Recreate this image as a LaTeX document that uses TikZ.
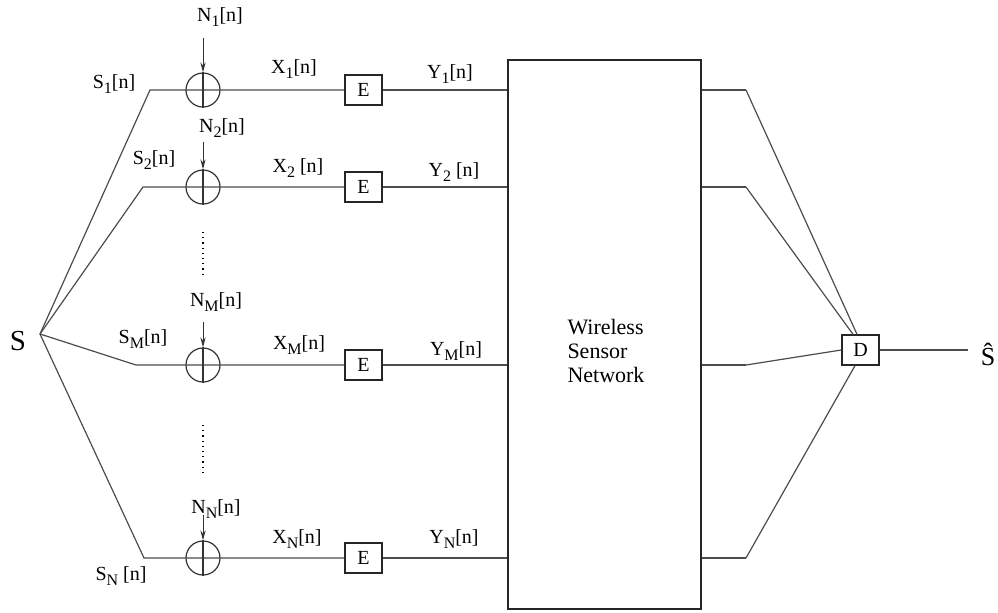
\documentclass[tikz,border=0pt]{standalone}
\usepackage{fontspec}
\setmainfont{Liberation Serif}
\usetikzlibrary{arrows.meta,positioning,calc}
\newcommand{\idx}[1]{\raisebox{-0.5ex}{\footnotesize #1}}

\tikzset{
  wire/.style={black!70,line width=0.6pt},
  adder/.style={circle,draw=black!80,line width=0.6pt,minimum size=17pt,inner sep=0pt},
  codebox/.style={draw=black!85,line width=0.7pt,minimum width=18.5pt,minimum height=15pt,inner sep=0pt,font=\fontsize{10}{12}\selectfont},
  sig/.style={font=\fontsize{10}{12}\selectfont,inner sep=0pt},
  noise/.style={-{Stealth[length=5pt,width=2.6pt]},black!80,line width=0.5pt},
}

\begin{document}
\begin{tikzpicture}[x=0.5pt,y=-0.5pt]
  \useasboundingbox (0,0) rectangle (998,612);
  % source, adders and encoders
  \node[font=\fontsize{14.5}{17}\selectfont,inner sep=0pt] (src) at (18,341) {S};
  \coordinate (fork) at (40,334);
  \node[draw=black!85,line width=0.8pt,minimum width=96.5pt,minimum height=274.5pt,inner sep=0pt] (wsn) at (604.5,334.5) {};
  \node[align=left,font=\fontsize{11}{12}\selectfont] (wsnlabel) at (606,351) {Wireless\\Sensor\\Network};
  \foreach \r/\y/\bx/\ny in {1/90/150/38, 2/187/143/142, M/365/136/322, N/558/144/515}{
    \coordinate (bend\r) at (\bx,\y);
    \node[adder] (add\r) at (203,\y) {};
    \node[codebox] (enc\r) at (363.5,\y) {E};
    \coordinate (tap\r) at (203,\ny);
    \coordinate (out\r) at (746,\y);
    \draw[wire] (fork) -- (bend\r) -- (enc\r.west);
    \draw[black!80,line width=0.6pt] (add\r.north) -- (add\r.south);
    \draw[noise] (tap\r) -- (add\r.north);
    \draw[wire] (enc\r.east) -- (enc\r.east -| wsn.west);
    \draw[wire] (out\r -| wsn.east) -- (out\r);
  }
  \draw[dotted,line width=0.6pt] (203,232) -- (203,276);
  \draw[dotted,line width=0.6pt] (203,425) -- (203,472);
  % decoder
  \node[codebox] (dec) at (860.5,350) {D};
  \draw[wire] (out1) -- ($(dec.north)+(-3.5,0)$);
  \draw[wire] (out2) -- ($(dec.north)+(-7.5,0)$);
  \draw[wire] (outM) -- (dec.west);
  \draw[wire] (outN) -- ($(dec.south)+(-5.5,0)$);
  \coordinate (est) at (968,350);
  \draw[wire] (dec.east) -- (est);
  \node[font=\fontsize{13}{15}\selectfont,inner sep=0pt,anchor=base] (shat) at (988,365) {\^{S}};
  % signal labels
  \node[sig] (s1) at (114,84) {S\idx{1}[n]};
  \node[sig] (s2) at (154,160) {S\idx{2}[n]};
  \node[sig] (sM) at (143,339) {S\idx{M}[n]};
  \node[sig] (sN) at (121,576) {S\idx{N} [n]};
  \node[sig] (n1) at (220,17) {N\idx{1}[n]};
  \node[sig] (n2) at (222,128) {N\idx{2}[n]};
  \node[sig] (nM) at (216,302) {N\idx{M}[n]};
  \node[sig] (nN) at (216,509) {N\idx{N}[n]};
  \node[sig] (x1) at (294,69) {X\idx{1}[n]};
  \node[sig] (x2) at (298,168) {X\idx{2} [n]};
  \node[sig] (xM) at (299,345) {X\idx{M}[n]};
  \node[sig] (xN) at (297,539) {X\idx{N}[n]};
  \node[sig] (y1) at (450,74) {Y\idx{1}[n]};
  \node[sig] (y2) at (454,172) {Y\idx{2} [n]};
  \node[sig] (yM) at (456,351) {Y\idx{M}[n]};
  \node[sig] (yN) at (454,539) {Y\idx{N}[n]};
\end{tikzpicture}
\end{document}
